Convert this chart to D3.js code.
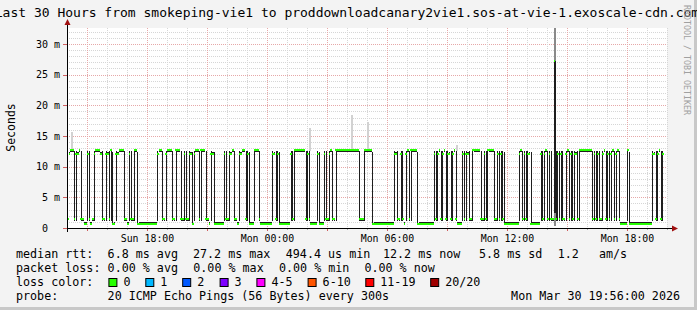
<!DOCTYPE html>
<html><head><meta charset="utf-8">
<script src="https://cdn.jsdelivr.net/npm/d3@7"></script>
<style>body{margin:0;background:#f3f3f3}svg{display:block}text{font-family:"DejaVu Sans Mono",monospace}</style>
</head><body><svg id="c" width="697" height="310"></svg>
<script>
// ---- data ----
const startTime = Date.UTC(2026,2,29,14,0,0);
const endTime   = Date.UTC(2026,2,30,20,0,0);
const stepSec = 300;
const yMax = 32.6;
// ping levels seen in the picture: median (ms), smoke low, smoke high
const levelNames  = ["A","B","C","D","Ta","Tb","Tc","Td","S"];
const levelMedian = [12.7, 12.1, 1.4, 0.65, 12.7, 12.1, 1.4, 0.65, 27.2];
const levelLo     = [12.45,11.85,1.15,0.45, 1.1, 1.1, 1.1, 0.6, 2.4];
const levelHi     = [12.95,12.35,1.65,0.9, 12.8, 12.5, 12.5, 12.4, 27.2];
// consecutive 5-minute intervals: level name and how many intervals
const runLevel = ["Tc","B","A","Tc","Tb","B","A","Tc","C","D","Tb","Tc","D","C","Tb","A","B","Tc","C","Tb","B","Tc",
 "Ta","Td","D","Tb","B","A","Tc","C","D","Tb","Tc","C","Ta","A","Td","D","Tb","A","Tc","C","Tb","A",
 "Tc","C","Ta","A","Tc","C","Tb","Tc","C","Tb","B","Td","Tb","A","Tc","Ta","A","Tc","C","D","Tb","B","Td","D",
 "Tb","Tc","C","Tb","B","A","Tc","C","D","Tb","B","A","Tc","Tb","Td","D","Ta","A","Tc","D",
 "Tb","B","Tc","Tb","Td","D","Tb","Tc","Ta","A","Tc","Tb","Tc","D","Tb","Td","D","Tb","Tc","C","Tb","A","Tc","C","Ta","A",
 "Tc","C","Ta","A","Td","D","Tb","B","Tc","C","Tb","Tc","D","Tb","A","Tc","Ta","A","Td","D",
 "Tb","Tc","Tb","A","Tc","Tb","A","Tc","Tb","B","Tc","Tb","A","Tc","D","Tb","Tc","Tb","B","Tc","C","Ta","A",
 "Tc","C","Tb","Tc","Ta","A","Tc","C","Tb","Tc","Tb","Tc","Td","D","Tb","A","Tc","Tb","Tc","Tb","B","Td","D",
 "Tb","Tc","Tb","A","Tc","Tb","Tc","C","S","Tc","Tb","Tc","Tb","Tc","C","Tb","A","Tc","Tb","Tc","Tb","B","Tc","Ta","A",
 "Tc","Tb","Tc","Tb","Tc","C","Tb","A","Tc","Tb","Tc","Tb","A","Tc","Tb","A","Tc","D","Ta","Td","D",
 "Tb","B","Tc","Tb","A","Tc","Tb"];
const runCount = [1,1,2,1,1,1,1,1,1,2,1,1,1,1,1,3,1,1,1,1,1,1,
 1,1,1,1,1,3,1,1,1,1,1,1,1,1,1,11,1,2,1,1,1,3,
 1,1,1,2,1,1,1,1,1,1,1,1,1,2,1,1,2,1,1,1,1,1,1,5,
 1,1,1,1,1,1,1,1,1,1,1,2,1,1,1,2,1,2,1,7,
 1,1,1,1,1,6,1,1,1,6,1,1,1,4,1,1,2,1,1,1,1,1,1,1,1,13,
 1,2,1,4,1,12,1,1,1,1,1,1,1,1,1,1,1,3,1,9,
 1,1,1,1,1,1,1,1,1,1,1,1,1,1,3,1,1,1,1,1,1,1,4,
 1,1,1,1,1,3,1,1,1,1,1,1,1,8,1,1,1,1,1,1,1,1,5,
 1,1,1,1,1,1,1,1,1,1,1,1,1,1,1,1,1,1,1,1,1,1,1,1,7,
 1,1,1,1,1,1,1,1,1,1,1,1,1,1,1,1,1,4,1,1,13,
 1,1,1,1,1,1,1];
// lighter smoke outliers: interval index, low, high (ms)
const outlierIdx = [2, 145, 170, 180, 233, 292, 292];
const outlierLo  = [12.9, 12.5, 12.95, 12.95, 12.5, 27.2, 0.3];
const outlierHi  = [15.7, 16.3, 18.4, 17.3, 13.6, 32.6, 2.4];

const yMinorTicks = 32, yMajorTicks = 6;
const legendRows = [
  [[16,"median rtt:"],[107.6,"6.8 ms avg"],[193,"27.2 ms max"],[285.8,"494.4 us min"],[383,"12.2 ms now"],[479,"5.8 ms sd"],[557.8,"1.2"],[599,"am/s"]],
  [[16,"packet loss:"],[107.6,"0.00 % avg"],[193.3,"0.00 % max"],[279,"0.00 % min"],[364.4,"0.00 % now"]],
  [[16,"loss color:"]],
  [[16,"probe:"],[107.6,"20 ICMP Echo Pings (56 Bytes) every 300s"]]
];
const lossLabels = ["0","1","2","3","4-5","6-10","11-19","20/20"];
const lossColors = ["#26ff00","#00b8ff","#0059ff","#7e00ff","#ff00ff","#ff5500","#ff0000","#a00000"];
const lossBoxX = [108.4,145.3,182.2,219.6,256.4,307.6,365.3,430.2];
const titleText = "Last 30 Hours from smokeping-vie1 to proddownloadcanary2vie1.sos-at-vie-1.exoscale-cdn.com";
const dateText = "Mon Mar 30 19:56:00 2026";

// ---- drawing ----
const W=697,H=310,L=67,R=667,TOP=28,BOT=228;
const svg=d3.select("#c");
svg.append("rect").attr("width",W).attr("height",H).attr("fill","#f3f3f3");
svg.append("rect").attr("x",W-3).attr("y",0).attr("width",3).attr("height",H).attr("fill","#c8c8c8");
svg.append("rect").attr("x",0).attr("y",H-3).attr("width",W).attr("height",3).attr("fill","#c8c8c8");
svg.append("rect").attr("x",L).attr("y",TOP).attr("width",R-L).attr("height",BOT-TOP).attr("fill","#fff");

const x=d3.scaleUtc().domain([startTime,endTime]).range([L,R]);
const y=d3.scaleLinear().domain([0,yMax]).range([BOT,TOP]);

// grid
const g=svg.append("g");
y.ticks(yMinorTicks).filter(v=>v>0).forEach(v=>{
  const maj=v%5===0;
  g.append("line").attr("x1",L).attr("x2",R).attr("y1",Math.round(y(v))+0.5).attr("y2",Math.round(y(v))+0.5)
   .attr("stroke",maj?"#e6a8a8":"#d6d6d6").attr("stroke-dasharray","1,1");
});
x.ticks(d3.utcHour.every(1)).forEach(t=>{
  const maj=t.getUTCHours()%3===0;
  const px=Math.round(x(t))+0.5;
  g.append("line").attr("x1",px).attr("x2",px).attr("y1",TOP).attr("y2",BOT)
   .attr("stroke",maj?"#e6a8a8":"#d6d6d6").attr("stroke-dasharray","1,1");
  g.append("line").attr("x1",px).attr("x2",px).attr("y1",BOT).attr("y2",BOT+(maj?3:2))
   .attr("stroke",maj?"#d06060":"#aaaaaa");
});

// expand runs into intervals
const iv=[];
let k=0;
runLevel.forEach((nm,r)=>{
  const li=levelNames.indexOf(nm);
  for(let j=0;j<runCount[r];j++) iv.push({i:k++,m:levelMedian[li],lo:levelLo[li],hi:levelHi[li]});
});
const tx=i=>x(startTime+i*stepSec*1000);
const dg=svg.append("g").attr("shape-rendering","crispEdges");
outlierIdx.forEach((ix,j)=>{
  dg.append("rect").attr("x",Math.round(tx(ix)+0.3)).attr("width",outlierHi[j]>30||outlierHi[j]<3?2:1.5).attr("y",y(outlierHi[j])).attr("height",y(outlierLo[j])-y(outlierHi[j]))
    .attr("fill",outlierHi[j]>30||outlierHi[j]<3?"#8a8a8a":"#d2d2d2");
});
iv.forEach(d=>{
  const x0=tx(d.i), x1=tx(d.i+1);
  const tall=(d.hi-d.lo)>3;
  const xs=tall?Math.round(x0+0.3):x0, ws=tall?(d.hi>20?2:1):(x1-x0);
  dg.append("rect").attr("x",xs).attr("width",ws).attr("y",y(d.hi)).attr("height",Math.max(1,y(d.lo)-y(d.hi)))
    .attr("fill","#1e1e1e");
});
iv.forEach(d=>{
  const x0=tx(d.i), x1=tx(d.i+1);
  dg.append("rect").attr("x",x0).attr("width",x1-x0).attr("y",y(d.m)-1).attr("height",2).attr("fill",lossColors[0]);
});

// axes
svg.append("line").attr("x1",63).attr("x2",673).attr("y1",BOT+0.5).attr("y2",BOT+0.5).attr("stroke","#000");
svg.append("line").attr("x1",L+0.5).attr("x2",L+0.5).attr("y1",BOT+4).attr("y2",24).attr("stroke","#000");
svg.append("path").attr("d",`M672,${BOT-2.5}L678,${BOT+0.5}L672,${BOT+3.5}Z`).attr("fill","#a01010");
svg.append("path").attr("d",`M${L-2.5},25L${L+0.5},19L${L+3.5},25Z`).attr("fill","#a01010");

// y labels
y.ticks(yMajorTicks).forEach(v=>{
  const py=y(v)+3.6;
  svg.append("text").attr("x",48).attr("y",py).attr("text-anchor","end").attr("font-size",10).text(v);
  if(v>0) svg.append("text").attr("x",54).attr("y",py).attr("font-size",10).text("m");
  svg.append("line").attr("x1",63).attr("x2",L).attr("y1",Math.round(y(v))+0.5).attr("y2",Math.round(y(v))+0.5).attr("stroke","#d06060");
});
// x labels
const fmt=d3.utcFormat("%a %H:%M");
x.ticks(d3.utcHour.every(6)).forEach(t=>{
  svg.append("text").attr("x",x(t)+0.5).attr("y",241.6).attr("text-anchor","middle").attr("font-size",9.9).text(fmt(new Date(t)));
});
svg.append("text").attr("transform","translate(14.5,127.5) rotate(-90)").attr("text-anchor","middle").attr("font-size",11.5).text("Seconds");
svg.append("text").attr("x",347).attr("y",17).attr("text-anchor","middle").attr("font-size",13).text(titleText);
svg.append("text").attr("transform","translate(684,5) rotate(90)").attr("font-size",8.3).attr("fill","#a0a0a0").text("RRDTOOL / TOBI OETIKER");

// legend
const base=[258,272,286,300];
legendRows.forEach((row,ri)=>row.forEach(([px,t])=>{
  svg.append("text").attr("x",px).attr("y",base[ri]).attr("font-size",11.7).attr("xml:space","preserve").text(t);
}));
lossLabels.forEach((lab,i)=>{
  svg.append("rect").attr("x",lossBoxX[i]+0.5).attr("y",278.5).attr("width",8).attr("height",8).attr("fill",lossColors[i]).attr("stroke","#000");
  svg.append("text").attr("x",lossBoxX[i]+15).attr("y",286).attr("font-size",11.7).text(lab);
});
svg.append("text").attr("x",680).attr("y",300).attr("text-anchor","end").attr("font-size",11.7).text(dateText);
</script></body></html>
